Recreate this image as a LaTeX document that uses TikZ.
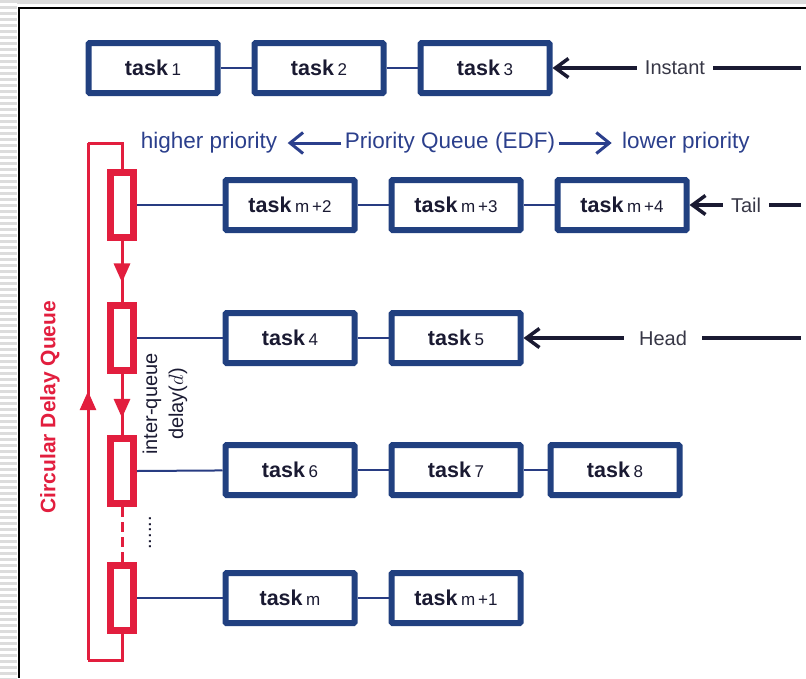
\documentclass[tikz,border=0pt]{standalone}
\usepackage{fontspec}
\setmainfont{Liberation Sans}
\usetikzlibrary{arrows.meta, positioning, decorations.markings}

\definecolor{boxblue}{RGB}{33,64,128}
\definecolor{linkblue}{RGB}{40,60,130}
\definecolor{prioblue}{RGB}{43,63,140}
\definecolor{slotred}{RGB}{226,30,62}
\definecolor{inkdark}{RGB}{26,26,50}
\definecolor{labelgray}{RGB}{55,55,70}
\definecolor{stripegray}{RGB}{220,220,220}

\newcommand{\tasklbl}[1]{\textbf{task}\,{\fontsize{17}{19}\selectfont #1}}

\begin{document}
\begin{tikzpicture}[
    x=1pt, y=-1pt,
    node distance=31pt,
    taskbox/.style={rectangle, draw=boxblue, line width=6pt, rounded corners=1pt, minimum width=129pt, minimum height=50pt, fill=white, text=inkdark, font=\fontsize{21.5}{25}\selectfont},
    slot/.style={rectangle, draw=slotred, line width=7pt, minimum width=23pt, minimum height=65pt, fill=white},
    link/.style={draw=linkblue, line width=2pt},
    redline/.style={color=slotred, line width=3pt},
    midarrow/.style={postaction={decorate}, decoration={markings, mark=at position #1 with {\arrow{Triangle[length=19pt,width=16pt]}}}},
    pointer/.style={draw=inkdark, line width=3.5pt, -{Straight Barb[length=13pt,width=19pt]}},
    plain/.style={draw=inkdark, line width=3.5pt},
    prio/.style={text=prioblue, font=\fontsize{22.5}{26}\selectfont},
    prioarrow/.style={draw=prioblue, line width=3pt, shorten >=7pt, -{Straight Barb[length=13pt,width=21pt]}},
    endlabel/.style={text=labelgray, fill=white, inner xsep=8pt, font=\fontsize{20}{24}\selectfont},
]
\useasboundingbox (0,0) rectangle (806,678);

% screenshot frame
\foreach \yy in {0,6,...,678}
    \fill[stripegray] (0,\yy) rectangle (17,\yy+3);
\fill[stripegray] (17,0) rectangle (806,4);
\draw[line width=2.5pt] (19,678) -- (19,8) -- (806,8);

% instant tasks
\node[taskbox] (task1) at (153,68) {\tasklbl{1}};
\node[taskbox, right=of task1] (task2) {\tasklbl{2}};
\node[taskbox, right=of task2] (task3) {\tasklbl{3}};
\draw[link] (task1) -- (task2);
\draw[link] (task2) -- (task3);

\coordinate (instEnd) at (801,68);
\node[endlabel] (instant) at (675,68) {Instant};
\draw[pointer] (instant) -- (task3);
\draw[plain] (instant) -- (instEnd);

% priority order
\node[prio] (hiprio) at (209,143) {higher priority};
\node[prio] (pq) at (450,143) {Priority Queue (EDF)};
\node[prio] (loprio) at (686,143) {lower priority};
\draw[prioarrow] (pq.west) -- (hiprio.east);
\draw[prioarrow] (pq.east) -- (loprio.west);

% circular delay queue
\coordinate (loopTL) at (88,143);
\coordinate (loopBL) at (88,660);
\node[slot] (slot1) at (122,205) {};
\node[slot] (slot2) at (122,338) {};
\node[slot] (slot3) at (122,471) {};
\node[slot] (slot4) at (122,598) {};

\draw[redline] (slot1.north) |- (loopTL);
\draw[redline, midarrow=0.52] (loopBL) -- (loopTL);
\draw[redline] (slot4.south) |- (loopBL);
\draw[redline, midarrow=0.68] (slot1.south) -- (slot2.north);
\draw[redline, midarrow=0.72] (slot2.south) -- (slot3.north);
\draw[redline, dash pattern=on 10pt off 5pt] (slot3.south) -- (slot4.north);

\node[rotate=90, text=slotred, font=\bfseries\fontsize{21}{25}\selectfont] (cdq) at (50,407) {Circular Delay Queue};
\node[rotate=90, align=center, text=inkdark, font=\fontsize{20}{26}\selectfont] (iqd) at (165,404) {inter-queue\\delay($d$)};
\node[rotate=90, text=inkdark, font=\fontsize{20}{24}\selectfont] (dots) at (150,533) {......};

% queued tasks
\node[taskbox] (taskm2) at (290,205) {\tasklbl{m\,+2}};
\node[taskbox, right=of taskm2] (taskm3) {\tasklbl{m\,+3}};
\node[taskbox, right=of taskm3] (taskm4) {\tasklbl{m\,+4}};

\node[taskbox] (task4) at (290,338) {\tasklbl{4}};
\node[taskbox, right=of task4] (task5) {\tasklbl{5}};

\node[taskbox] (task6) at (290,470) {\tasklbl{6}};
\node[taskbox, right=of task6] (task7) {\tasklbl{7}};
\node[taskbox, right=24pt of task7] (task8) {\tasklbl{8}};

\node[taskbox] (taskm) at (290,598) {\tasklbl{m}};
\node[taskbox, right=of taskm] (taskm1) {\tasklbl{m\,+1}};

\draw[link] (slot1.east) -- (taskm2);
\draw[link] (taskm2) -- (taskm3);
\draw[link] (taskm3) -- (taskm4);
\draw[link] (slot2.east) -- (task4);
\draw[link] (task4) -- (task5);
\draw[link] (slot3.east) -- (task6);
\draw[link] (task6) -- (task7);
\draw[link] (task7) -- (task8);
\draw[link] (slot4.east) -- (taskm);
\draw[link] (taskm) -- (taskm1);

% tail and head
\coordinate (tailEnd) at (801,205);
\node[endlabel] (tail) at (746,205) {Tail};
\draw[pointer] (tail) -- (taskm4);
\draw[plain] (tail) -- (tailEnd);

\coordinate (headEnd) at (801,338);
\node[endlabel, inner xsep=15pt] (head) at (663,338) {Head};
\draw[pointer] (head) -- (task5);
\draw[plain] (head) -- (headEnd);
\end{tikzpicture}
\end{document}
